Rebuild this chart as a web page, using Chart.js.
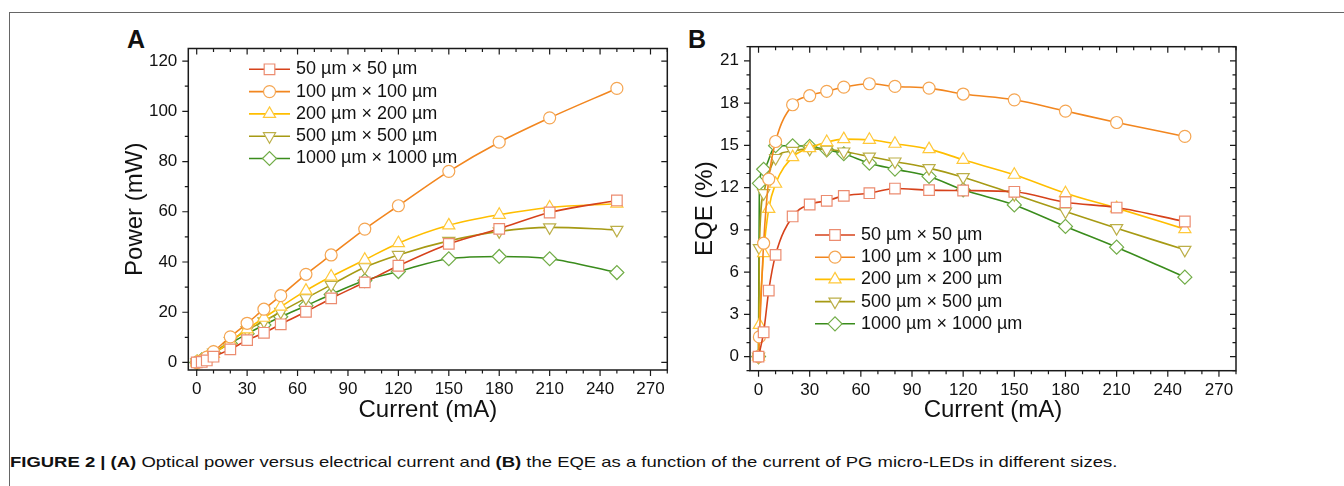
<!DOCTYPE html>
<html>
<head>
<meta charset="utf-8">
<script src="https://cdn.jsdelivr.net/npm/chart.js@4.4.1/dist/chart.umd.min.js"></script>
<style>
  html, body { margin: 0; padding: 0; background: #fff; }
  body { width: 1344px; height: 486px; position: relative; overflow: hidden;
         font-family: "Liberation Sans", Arial, Helvetica, sans-serif; color: #111; }
  .frame { position: absolute; left: 9px; top: 12px; width: 1400px; height: 500px;
           border-top: 1.5px solid #666; border-left: 1.5px solid #666; }
  .letter { position: absolute; font-weight: bold; font-size: 25px; line-height: 25px; }
  canvas { position: absolute; }
  #caption { position: absolute; left: 10px; top: 454px; font-size: 15px; line-height: 15px;
             white-space: nowrap; transform-origin: 0 0; }
</style>
</head>
<body>
<div class="frame"></div>
<div class="letter" style="left:127px; top:27px;">A</div>
<div class="letter" style="left:688px; top:27px;">B</div>
<canvas id="chartA" width="588" height="405" style="left:100px; top:20px;"></canvas>
<canvas id="chartB" width="586" height="405" style="left:670px; top:20px;"></canvas>
<div id="caption"><b>FIGURE 2 | (A)</b> Optical power versus electrical current and <b>(B)</b> the EQE as a function of the current of PG micro-LEDs in different sizes.</div>

<script>
// ----- dados -----
const sizes = ["50 µm × 50 µm", "100 µm × 100 µm", "200 µm × 200 µm", "500 µm × 500 µm", "1000 µm × 1000 µm"];
const current = [0, 0.5, 3, 6, 10, 20, 30, 40, 50, 65, 80, 100, 120, 150, 180, 210, 250];

// Power (mW)
const power50   = [0, null, 0.2, 0.8, 2.3, 5.2, 8.9, 11.8, 15.2, 20.2, 25.5, 31.9, 38.5, 47.2, 53.2, 59.7, 64.5];
const power100  = [0, 0.02, 0.7, 2.1, 4.3, 10.2, 15.6, 21.2, 26.6, 35.1, 42.8, 53.1, 62.4, 76.1, 87.7, 97.4, 109.1];
const power200  = [0, 0.03, 0.6, 1.75, 3.4, 8.3, 13.2, 17.8, 22.2, 28.6, 34.2, 40.9, 47.5, 54.6, 58.8, 61.7, 63.2];
const power500  = [0, 0.1, 1.0, null, 3.9, 8.5, 12.9, 16.4, 20.2, 25.6, 30.9, 37.9, 42.8, 48.4, 52.2, 53.8, 52.8];
const power1000 = [0, 0.16, 1.0, null, 3.9, 7.6, 11.4, 14.9, 18.2, 22.6, 27.1, 32.6, 36.2, 41.3, 42.2, 41.3, 35.8];

// EQE (%)
const eqe50   = [0, null, 1.73, 4.69, 7.22, 9.95, 10.8, 11.06, 11.41, 11.6, 11.93, 11.82, 11.79, 11.7, 10.96, 10.58, 9.59];
const eqe100  = [0, 1.4, 8.05, 12.6, 15.27, 17.88, 18.52, 18.83, 19.13, 19.37, 19.18, 19.06, 18.64, 18.23, 17.43, 16.62, 15.63];
const eqe200  = [0, 2.25, 7.34, 10.49, 12.27, 14.16, 14.8, 15.23, 15.44, 15.39, 15.11, 14.73, 13.97, 12.91, 11.6, 10.54, 9.05];
const eqe500  = [0, 7.7, 11.6, null, 14.1, 14.6, 14.75, 14.7, 14.56, 14.2, 13.85, 13.38, 12.74, 11.53, 10.3, 9.12, 7.58];
const eqe1000 = [0, 12.3, 13.3, null, 14.97, 14.97, 14.92, 14.68, 14.4, 13.73, 13.31, 12.79, 11.84, 10.77, 9.24, 7.77, 5.64];

const xTicks = { min: -5, max: 280, step: 30, minor: 10 };
const powerTicks = { min: -3, max: 125, step: 20, minor: 10 };
const eqeTicks = { min: -1, max: 22, step: 3, minor: 1 };

// ----- estilos -----
const lineColors = ["#D6421B", "#F2861F", "#FFBE00", "#A69A14", "#3A8C1C"];
const markColors = ["#EC8C70", "#F5A653", "#FFC83A", "#BCAF48", "#72AD48"];
const markStyles = ["rect", "circle", "triangle", "triangle", "rectRot"];
const markRot = [0, 0, 0, 180, 0];
const markRadius = [7.5, 6, 7, 7, 7];
const fontFamily = '"Liberation Sans", Arial, Helvetica, sans-serif';

function montarDatasets(series) {
  return series.map((vals, i) => ({
    label: sizes[i],
    data: current.map((c, j) => ({ x: c, y: vals[j] })).filter(p => p.y !== null),
    borderColor: lineColors[i],
    borderWidth: 1.6,
    cubicInterpolationMode: "monotone",
    pointStyle: markStyles[i],
    pointRotation: markRot[i],
    pointRadius: markRadius[i],
    pointBackgroundColor: "#fff",
    pointBorderColor: markColors[i],
    pointBorderWidth: 1.2
  }));
}

function isMajor(v, step) {
  const r = v / step;
  return Math.abs(r - Math.round(r)) < 1e-6;
}

// moldura e marcas (maiores e menores) nos quatro lados
const frameTicks = {
  id: "frameTicks",
  afterDraw(chart, args, opts) {
    const { ctx, chartArea: a, scales: { x, y } } = chart;
    ctx.save();
    ctx.strokeStyle = "#1a1a1a";
    ctx.lineWidth = 1.2;
    ctx.beginPath();
    for (let v = Math.ceil(x.min / opts.xMinor) * opts.xMinor; v <= x.max + 1e-9; v += opts.xMinor) {
      const px = x.getPixelForValue(v);
      const len = isMajor(v, opts.xStep) ? 6 : 3.5;
      ctx.moveTo(px, a.bottom); ctx.lineTo(px, a.bottom + len);
      ctx.moveTo(px, a.top); ctx.lineTo(px, a.top + len);
    }
    for (let v = Math.ceil(y.min / opts.yMinor) * opts.yMinor; v <= y.max + 1e-9; v += opts.yMinor) {
      const py = y.getPixelForValue(v);
      const len = isMajor(v, opts.yStep) ? 6 : 3.5;
      ctx.moveTo(a.left, py); ctx.lineTo(a.left - len, py);
      ctx.moveTo(a.right, py); ctx.lineTo(a.right - len, py);
    }
    ctx.stroke();
    ctx.lineWidth = 1.5;
    ctx.strokeRect(a.left, a.top, a.right - a.left, a.bottom - a.top);
    ctx.restore();
  }
};

// legenda dentro do gráfico: linha + marcador + texto
const insideLegend = {
  id: "insideLegend",
  afterDatasetsDraw(chart, args, opts) {
    const ctx = chart.ctx;
    ctx.save();
    ctx.font = "18px " + fontFamily;
    ctx.textBaseline = "middle";
    chart.data.datasets.forEach((ds, i) => {
      const y = opts.y + i * opts.row;
      ctx.strokeStyle = ds.borderColor;
      ctx.lineWidth = ds.borderWidth;
      ctx.beginPath();
      ctx.moveTo(opts.x, y);
      ctx.lineTo(opts.x + opts.len, y);
      ctx.stroke();
      ctx.fillStyle = "#fff";
      ctx.strokeStyle = ds.pointBorderColor;
      ctx.lineWidth = ds.pointBorderWidth;
      Chart.helpers.drawPoint(ctx, {
        pointStyle: ds.pointStyle, rotation: ds.pointRotation,
        radius: ds.pointRadius, borderWidth: ds.pointBorderWidth
      }, opts.x + opts.len / 2, y);
      ctx.fillStyle = "#111";
      ctx.fillText(ds.label, opts.x + opts.len + opts.gap, y);
    });
    ctx.restore();
  }
};

function criarGrafico(id, series, yt, yTitle, lay) {
  const ctx = document.getElementById(id).getContext("2d");
  return new Chart(ctx, {
    type: "line",
    data: { datasets: montarDatasets(series) },
    plugins: [frameTicks, insideLegend],
    options: {
      responsive: false,
      animation: false,
      layout: { padding: { left: 0, top: lay.top, right: lay.right, bottom: 0 } },
      plugins: {
        legend: { display: false },
        tooltip: { enabled: false },
        frameTicks: { xStep: xTicks.step, xMinor: xTicks.minor, yStep: yt.step, yMinor: yt.minor },
        insideLegend: lay.legend
      },
      scales: {
        x: {
          type: "linear",
          min: xTicks.min, max: xTicks.max,
          grid: { display: false, drawTicks: false },
          border: { display: false },
          ticks: { stepSize: xTicks.step, includeBounds: false, padding: 9, color: "#111",
                   font: { family: fontFamily, size: 17 } },
          title: { display: true, text: "Current (mA)", color: "#111",
                   font: { family: fontFamily, size: 24, lineHeight: 1 }, padding: { top: 0, bottom: 3 } },
          afterFit(s) { s.height = lay.xHeight; }
        },
        y: {
          type: "linear",
          min: yt.min, max: yt.max,
          grid: { display: false, drawTicks: false },
          border: { display: false },
          ticks: { stepSize: yt.step, includeBounds: false, padding: 11, color: "#111",
                   font: { family: fontFamily, size: 17 } },
          title: { display: true, text: yTitle, color: "#111",
                   font: { family: fontFamily, size: 24, lineHeight: 1 }, padding: { top: lay.yTitle, bottom: 0 } },
          afterFit(s) { s.width = lay.yWidth; }
        }
      }
    }
  });
}

criarGrafico("chartA", [power50, power100, power200, power500, power1000], powerTicks, "Power (mW)", {
  top: 28.5, right: 20.7, xHeight: 55, yWidth: 88.3, yTitle: 23.4,
  legend: { x: 149, y: 49.3, row: 22.3, len: 41, gap: 6 }
});

criarGrafico("chartB", [eqe50, eqe100, eqe200, eqe500, eqe1000], eqeTicks, "EQE (%)", {
  top: 26.7, right: 20, xHeight: 54.3, yWidth: 80, yTitle: 23,
  legend: { x: 145, y: 215, row: 22.2, len: 40, gap: 6 }
});

// ajustar a largura da legenda da figura
const cap = document.getElementById("caption");
cap.style.transform = "scaleX(" + (1107 / cap.offsetWidth) + ")";
</script>
</body>
</html>
